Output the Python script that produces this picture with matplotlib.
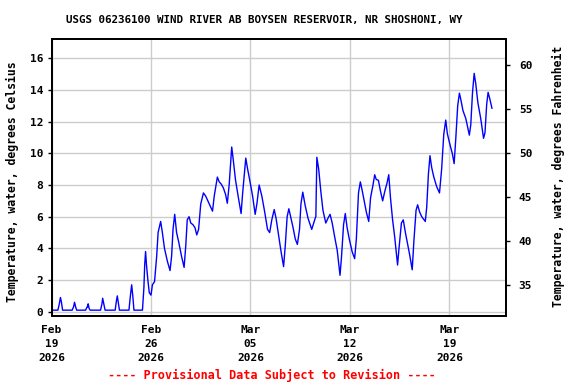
import numpy as np
import pandas as pd
import matplotlib
matplotlib.use("Agg")
import matplotlib.pyplot as plt
import matplotlib.dates as mdates

# Water temperature readings (days since Feb 19 2026 00:00, deg C)
day = [0.00, 0.45, 0.55, 0.63, 0.70, 0.78, 1.45, 1.55, 1.62, 1.70, 1.77,
       2.40, 2.50, 2.54, 2.58, 2.65, 2.72, 3.45, 3.55, 3.60, 3.68, 3.77,
       4.48, 4.57, 4.63, 4.70, 4.78, 5.45, 5.55, 5.64, 5.72, 5.80,
       6.40, 6.50, 6.56, 6.62, 6.68, 6.78, 6.88, 7.00, 7.10, 7.25, 7.40, 7.50,
       7.68, 7.80, 7.95, 8.15, 8.34, 8.45, 8.55, 8.67, 8.80, 8.95, 9.15, 9.33,
       9.45, 9.55, 9.68, 9.80, 9.95, 10.10, 10.22, 10.35, 10.50, 10.69, 10.85,
       11.05, 11.20, 11.33, 11.45, 11.67, 11.80, 11.95, 12.10, 12.25, 12.37,
       12.50, 12.68, 12.80, 12.95, 13.15, 13.34, 13.45, 13.67, 13.80, 13.95,
       14.15, 14.33, 14.45, 14.61, 14.80, 15.00, 15.20, 15.35, 15.50, 15.67,
       15.80, 15.95, 16.15, 16.33, 16.45, 16.58, 16.70, 16.85, 17.00, 17.15,
       17.30, 17.45, 17.55, 17.68, 17.85, 18.05, 18.31, 18.45, 18.57, 18.60,
       18.67, 18.80, 18.95, 19.10, 19.30, 19.45, 19.60, 19.75, 19.95, 20.10,
       20.30, 20.40, 20.55, 20.67, 20.80, 20.95, 21.15, 21.33, 21.45, 21.60,
       21.73, 21.85, 22.00, 22.15, 22.32, 22.45, 22.62, 22.74, 22.85, 23.00,
       23.15, 23.30, 23.45, 23.60, 23.73, 23.85, 24.00, 24.15, 24.35, 24.45,
       24.62, 24.75, 24.90, 25.05, 25.20, 25.38, 25.50, 25.65, 25.76, 25.90,
       26.05, 26.30, 26.40, 26.52, 26.63, 26.75, 26.90, 27.10, 27.30, 27.45,
       27.60, 27.74, 27.85, 28.05, 28.20, 28.33, 28.45, 28.58, 28.70, 28.80,
       28.95, 29.15, 29.40, 29.50, 29.62, 29.74, 29.85, 30.00, 30.20, 30.40,
       30.50, 30.62, 30.72, 30.85, 30.99]
temp_c = [0.1, 0.1, 0.5, 0.9, 0.6, 0.1, 0.1, 0.3, 0.6, 0.3, 0.1,
          0.1, 0.3, 0.3, 0.5, 0.2, 0.1, 0.1, 0.5, 0.85, 0.5, 0.1,
          0.1, 0.7, 1.0, 0.6, 0.1, 0.1, 1.0, 1.7, 1.0, 0.1,
          0.1, 1.5, 3.0, 3.8, 3.0, 2.0, 1.2, 1.05, 1.7, 1.9, 3.5, 5.0,
          5.7, 5.0, 4.0, 3.2, 2.6, 3.5, 5.2, 6.15, 5.0, 4.4, 3.5, 2.8,
          4.2, 5.8, 6.0, 5.6, 5.5, 5.3, 4.85, 5.2, 6.8, 7.5, 7.3,
          6.9, 6.6, 6.35, 7.3, 8.5, 8.2, 8.05, 7.8, 7.4, 6.85,
          8.0, 10.4, 9.5, 8.3, 7.2, 6.2, 7.5, 9.7, 9.0, 8.3,
          7.3, 6.15, 6.8, 8.0, 7.3, 6.3, 5.2, 5.0, 5.8, 6.45,
          5.9, 5.0, 3.8, 2.85, 4.2, 6.0, 6.5, 5.9, 5.3, 4.6,
          4.25, 5.2, 6.8, 7.55, 6.7, 5.9, 5.2, 5.6, 5.95, 6.0,
          9.75, 9.0, 7.6, 6.4, 5.6, 5.9, 6.15, 5.6, 4.6, 3.9,
          2.3, 3.4, 5.5, 6.2, 5.3, 4.6, 3.8, 3.35, 4.6, 7.5,
          8.2, 7.7, 7.0, 6.3, 5.7, 7.2, 8.0, 8.65, 8.35, 8.3,
          7.6, 7.0, 7.6, 8.1, 8.65, 7.2, 5.8, 4.7, 2.95, 4.0,
          5.6, 5.8, 5.0, 4.3, 3.6, 2.65, 4.5, 6.4, 6.75, 6.3,
          6.0, 5.7, 6.6, 8.7, 9.85, 9.1, 8.5, 7.9, 7.5, 9.0,
          11.2, 12.1, 11.25, 10.5, 10.0, 9.35, 11.0, 13.0, 13.8, 13.4,
          12.7, 12.2, 11.15, 11.8, 13.8, 15.05, 14.4, 13.2, 12.2, 10.95,
          11.3, 13.1, 13.85, 13.4, 12.85]

start = pd.Timestamp("2026-02-19")
times = start + pd.to_timedelta(day, unit="D")
tick_dates = pd.to_datetime(["2026-02-19", "2026-02-26", "2026-03-05",
                             "2026-03-12", "2026-03-19"])
c_ticks = [0, 2, 4, 6, 8, 10, 12, 14, 16]
f_ticks = [35, 40, 45, 50, 55, 60]

mono = "DejaVu Sans Mono"
W, H = 576, 384
fig = plt.figure(figsize=(W / 100, H / 100), dpi=100)
ax = fig.add_axes([51.5 / W, 1 - 315.7 / H, (506.3 - 51.5) / W, (315.7 - 39.3) / H])

ax.plot(times, temp_c, color="#0000ff", lw=1.0)

ax.set_xlim(start, pd.Timestamp("2026-03-23"))
ylo, yhi = -0.25, 17.2
ax.set_ylim(ylo, yhi)
ax.set_xticks(tick_dates)
ax.set_xticklabels([d.strftime("%b\n%d\n%Y") for d in tick_dates],
                   family=mono, weight="bold", fontsize=8, linespacing=1.5)
ax.set_yticks(c_ticks)
ax.set_yticklabels([str(v) for v in c_ticks], family=mono, weight="bold", fontsize=8)
ax.grid(True, color="#cccccc", lw=1.0)
ax.set_axisbelow(True)
ax.tick_params(axis="x", length=0, pad=7)
ax.tick_params(axis="y", length=3, width=1, pad=3)
for s in ax.spines.values():
    s.set_linewidth(1.3)

ax2 = ax.twinx()
ax2.set_ylim(ylo * 9 / 5 + 32, yhi * 9 / 5 + 32)
ax2.set_yticks(f_ticks)
ax2.set_yticklabels([str(v) for v in f_ticks], family=mono, weight="bold", fontsize=8)
ax2.tick_params(axis="y", length=3, width=1, pad=6)
for s in ax2.spines.values():
    s.set_linewidth(1.3)

fig.text(264 / W, 1 - 20 / H, "USGS 06236100 WIND RIVER AB BOYSEN RESERVOIR, NR SHOSHONI, WY",
         ha="center", va="center", family=mono, weight="bold", fontsize=7.8)
fig.text(12 / W, 1 - 182 / H, "Temperature, water, degrees Celsius", rotation=90,
         ha="center", va="center", family=mono, weight="bold", fontsize=8.3)
fig.text(558 / W, 1 - 176 / H, "Temperature, water, degrees Fahrenheit", rotation=90,
         ha="center", va="center", family=mono, weight="bold", fontsize=8.3)
fig.text(272 / W, 1 - 375 / H, "---- Provisional Data Subject to Revision ----",
         ha="center", va="center", family=mono, weight="bold", color="red", fontsize=8.5)

fig.savefig("out.png", dpi=100)
